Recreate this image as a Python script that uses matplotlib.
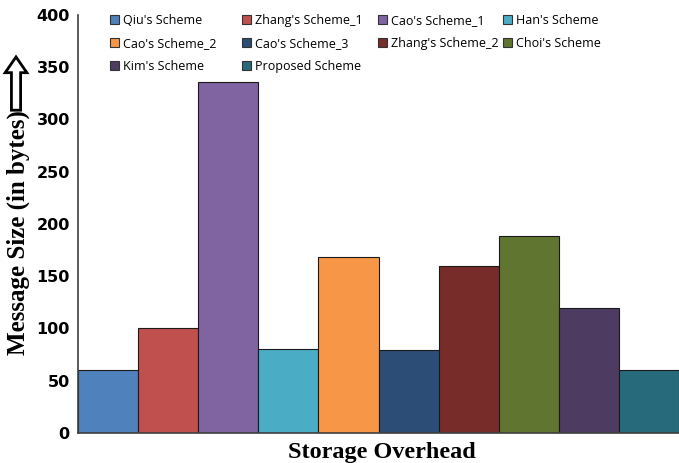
import matplotlib
matplotlib.use("Agg")
import matplotlib.pyplot as plt
from matplotlib.patches import Patch, FancyArrow

schemes = ["Qiu's Scheme", "Zhang's Scheme_1", "Cao's Scheme_1", "Han's Scheme",
           "Cao's Scheme_2", "Cao's Scheme_3", "Zhang's Scheme_2", "Choi's Scheme",
           "Kim's Scheme", "Proposed Scheme"]
sizes = [60, 100, 336, 80, 168, 79, 160, 188, 120, 60]
colors = ["#4F81BD", "#C0504D", "#8064A2", "#4BACC6", "#F79646",
          "#2C4D75", "#772C2A", "#5F7530", "#4D3B62", "#276A7C"]
yticks = [0, 50, 100, 150, 200, 250, 300, 350, 400]

fig = plt.figure(figsize=(6.79, 4.63), dpi=100)
ax = fig.add_axes([0.115, 0.065, 0.885, 0.9026])

x = list(range(len(schemes)))
ax.bar(x, sizes, width=1.0, color=colors, edgecolor="#1a1a1a", linewidth=0.8)
ax.set_xlim(-0.5, len(schemes) - 0.5)
ax.set_ylim(0, 400)
ax.set_yticks(yticks)
ax.set_yticklabels([str(t) for t in yticks], fontweight="bold", fontsize=11.5,
                   family="DejaVu Sans")
ax.tick_params(axis="y", length=0, pad=6)
ax.set_xticks([])
for s in ["top", "right"]:
    ax.spines[s].set_visible(False)
ax.spines["left"].set_color("#404040")
ax.spines["bottom"].set_color("#404040")
ax.spines["left"].set_linewidth(1.2)
ax.spines["bottom"].set_linewidth(1.2)

fig.text(0.5625, (463 - 458) / 463, "Storage Overhead", ha="center", va="baseline",
         fontsize=17.5, fontweight="bold", family="Liberation Serif")

fig.text(0.027, 0.497, "Message Size (in bytes)", rotation=90, ha="center", va="center",
         fontsize=18, fontweight="bold", family="Liberation Serif")
fig.patches.append(FancyArrow(
    0.0236, 0.762, 0, 0.115, width=0.0135, head_width=0.032, head_length=0.034,
    length_includes_head=True, transform=fig.transFigure, figure=fig,
    facecolor="white", edgecolor="black", linewidth=2))

# legend laid out row-wise in 4 columns, like the original
ncols = 4
col_left_px = [110, 242, 378, 503]
legends = []
for c in range(ncols):
    idx = list(range(c, len(schemes), ncols))
    handles = [Patch(facecolor=colors[i], edgecolor="#333333", linewidth=0.8) for i in idx]
    labels = [schemes[i] for i in idx]
    leg = ax.legend(handles, labels, loc="upper left",
                    bbox_to_anchor=((col_left_px[c] - 78) / 601, 1.002),
                    frameon=False, prop={"family": "Open Sans", "size": 9.0},
                    handlelength=0.75, handleheight=0.75, handletextpad=0.3,
                    labelspacing=0.78, borderpad=0, borderaxespad=0)
    legends.append(leg)
for leg in legends[:-1]:
    ax.add_artist(leg)

fig.savefig("out.png", dpi=100)
